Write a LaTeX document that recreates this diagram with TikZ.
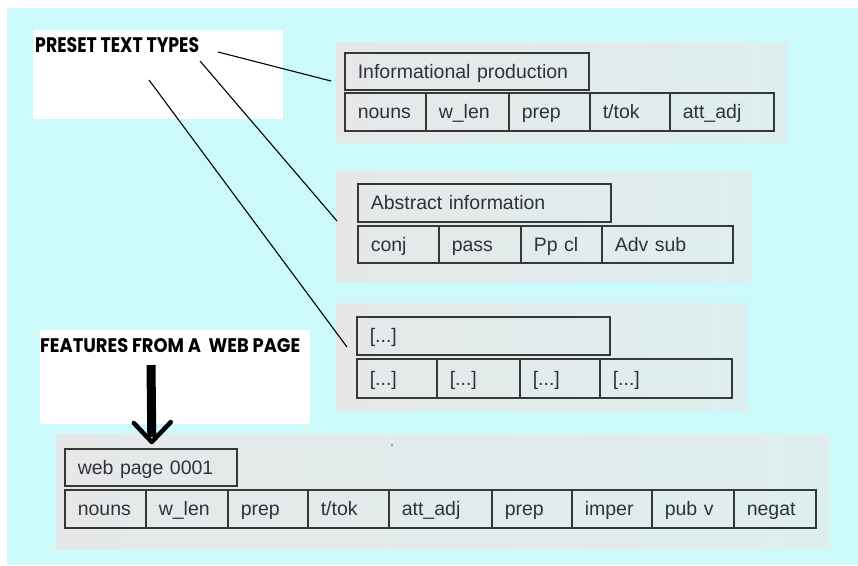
\documentclass[tikz,border=0pt]{standalone}
\usepackage{fontspec}
\setmainfont{Liberation Sans}
\newfontfamily\titlefont{Poppins}
\usetikzlibrary{calc}

\definecolor{bgcyan}{RGB}{204,250,250}
\definecolor{panelL}{RGB}{230,232,232}
\definecolor{panelR}{RGB}{222,238,238}
\definecolor{cellline}{RGB}{55,55,55}
\definecolor{celltext}{RGB}{48,48,62}

\begin{document}
\begin{tikzpicture}[x=1pt,y=-1pt,
  panel/.style={left color=panelL, right color=panelR, draw=none},
  whitebox/.style={fill=white, draw=none, inner sep=0pt, anchor=north west},
  cell/.style={draw=cellline, line width=1.6pt, inner xsep=13pt, inner ysep=0pt,
    anchor=north west, align=left, text height=17pt, text depth=3pt,
    font=\fontsize{19.5}{22}\selectfont, text=celltext},
  title/.style={anchor=south west, inner sep=0pt},
  link/.style={draw=black, line width=1.1pt}]

\useasboundingbox (0,0) rectangle (858,565);
\fill[white] (0,0) rectangle (858,565);
\fill[bgcyan] (7,8) rectangle (858,565);

% grey panels behind each feature table
\shade[panel] (336,42) rectangle (787,142);
\shade[panel] (336,171) rectangle (751,281);
\shade[panel] (336,303) rectangle (747,410);
\shade[panel] (56,434) rectangle (830,549);

% white label areas
\node[whitebox, minimum width=250pt, minimum height=89pt] (pbox) at (33,30) {};
\node[whitebox, minimum width=270pt, minimum height=94pt] (fbox) at (40,330) {};

\node[title] (preset) at (35,53)
  {\resizebox{164pt}{15pt}{\titlefont\bfseries PRESET TEXT TYPES}};
\node[title] (features) at (40,353)
  {\resizebox{260pt}{14pt}{\titlefont\bfseries FEATURES FROM A\ \ WEB PAGE}};

% text type 1
\node[cell, text width=218pt, minimum height=37pt] (h1) at (344,52) {Informational production};
\foreach \n/\l/\r/\t in {1/344/425/nouns, 2/425/508/w\_len, 3/508/589/prep,
    4/589/669/{t/tok}, 5/669/773/att\_adj}{
  \pgfmathsetmacro\tw{\r-\l-26}
  \node[cell, text width=\tw pt, minimum height=38pt] (a\n) at (\l,92) {\t};
}

% text type 2
\node[cell, text width=227pt, minimum height=38pt] (h2) at (357,183) {Abstract information};
\foreach \n/\l/\r/\t in {1/357/438/conj, 2/438/520/pass, 3/520/601/Pp cl, 4/601/732/Adv sub}{
  \pgfmathsetmacro\tw{\r-\l-26}
  \node[cell, text width=\tw pt, minimum height=37pt] (b\n) at (\l,225) {\t};
}

% further text types
\node[cell, text width=227pt, minimum height=38pt] (h3) at (356,316) {[...]};
\foreach \n/\l/\r in {1/356/436, 2/436/519, 3/519/599, 4/599/731}{
  \pgfmathsetmacro\tw{\r-\l-26}
  \node[cell, text width=\tw pt, minimum height=39pt] (c\n) at (\l,358) {[...]};
}

% features of one web page
\node[cell, text width=146pt, minimum height=37pt] (h4) at (64,448) {web page 0001};
\foreach \n/\l/\r/\t in {1/64/145/nouns, 2/145/227/w\_len, 3/227/307/prep,
    4/307/388/{t/tok}, 5/388/491/att\_adj, 6/491/571/prep, 7/571/651/imper,
    8/651/733/pub v, 9/733/815/negat}{
  \pgfmathsetmacro\tw{\r-\l-26}
  \node[cell, text width=\tw pt, minimum height=38pt] (d\n) at (\l,489) {\t};
}

% links from the preset label to each text type
\coordinate (s1) at (218,52);  \coordinate (e1) at (331,81);
\coordinate (s2) at (200,61);  \coordinate (e2) at (337,221);
\coordinate (s3) at (149,80);  \coordinate (e3) at (347,347);
\draw[link] (s1) -- (e1);
\draw[link] (s2) -- (e2);
\draw[link] (s3) -- (e3);

% heavy arrow from the feature label down to the web page table
\coordinate (ftop) at (151,365);
\coordinate (tip) at ($(h4.north)+(1,-6)$);
\draw[line width=9pt] (ftop) -- ($(tip)+(0,-5)$);
\draw[line width=4.5pt, line cap=round, line join=round]
  ($(tip)+(-18,-19)$) -- (tip) -- ($(tip)+(19,-20)$);

% stray speck
\fill[black!70] (392,445) circle (0.9pt);

\end{tikzpicture}
\end{document}
